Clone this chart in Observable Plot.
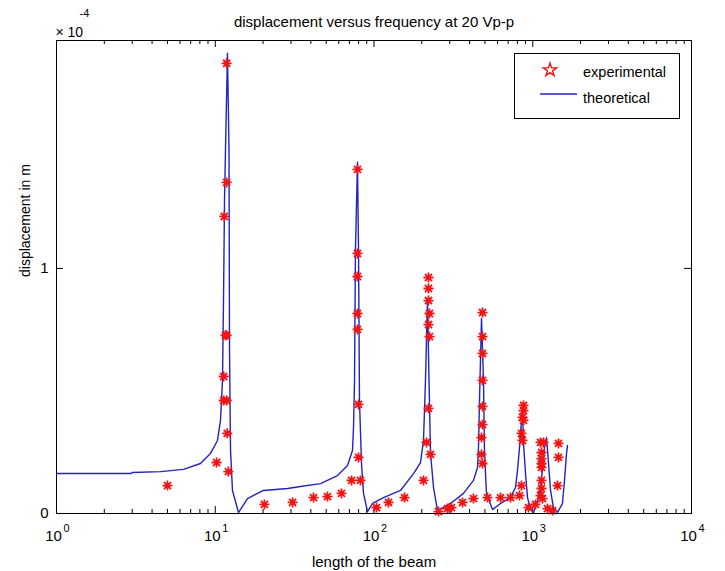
<!DOCTYPE html>
<html><head><meta charset="utf-8">
<script src="https://cdn.jsdelivr.net/npm/d3@7"></script>
<script src="https://cdn.jsdelivr.net/npm/@observablehq/plot@0.6"></script>
<style>body{margin:0;background:#fff} svg{display:block}</style>
</head><body><div id="chart"></div>
<script>
// ---- data (displacement in units of 1e-4 m) ----
const theoryX = [1,2.93,3.01,4.52,6.31,8.07,9.33,10.33,10.79,11.11,
  11.27,11.44,11.60,11.94,12.21,12.30,12.48,12.84,14.01,15.97,
  17.93,20.13,28.52,34.44,46.03,58.9,68.1,73.2,74.3,75.4,
  76.4,78.7,79.9,81.0,83.4,85.9,91.0,97.9,114.8,146.9,
  177.4,196.3,205.0,208.0,211.0,217.3,222.1,227.0,237.1,251.2,
  303.3,366.3,423.5,448.7,455.3,461.9,475.5,489.5,496.7,511.3,
  557.9,626.6,724.3,778.6,801.5,825.2,849.5,861.9,874.6,900.4,
  926.8,967.8,1010.9,1087,1152,1186,1221,1257,1294,1351,
  1432,1539,1585,1632,1656];
const theoryY = [0.163,0.163,0.167,0.171,0.180,0.204,0.245,0.298,0.380,0.543,
  0.869,1.278,1.482,1.878,1.482,0.665,0.257,0.094,0.004,0.061,
  0.078,0.094,0.102,0.110,0.122,0.155,0.196,0.257,0.351,0.543,
  1.073,1.433,1.073,0.461,0.204,0.082,0.008,0.041,0.065,0.094,
  0.163,0.208,0.298,0.420,0.543,0.869,0.543,0.245,0.106,0.012,
  0.041,0.082,0.135,0.188,0.269,0.461,0.796,0.543,0.245,0.082,
  0.016,0.041,0.065,0.106,0.176,0.269,0.380,0.420,0.286,0.163,
  0.065,0.020,0.004,0.065,0.176,0.269,0.310,0.204,0.094,0.024,
  0.004,0.041,0.135,0.245,0.278];

const expX = [5.0,10.2,12.1,11.9,11.3,11.8,11.3,11.6,11.8,11.4,11.8,11.8,
  20.4,30.7,41.6,50.9,62.4,72.2,82.2,79.9,79.9,78.7,78.7,78.7,78.7,78.7,103.7,123.4,155.7,
  205.0,214.2,227.0,220.4,223.6,220.4,223.6,220.4,220.4,220.4,254.9,290.4,307.7,361.0,423.5,518.8,
  482.5,482.5,482.5,482.5,482.5,482.5,475.5,475.5,482.5,
  626.6,724.3,825.2,849.5,874.6,874.6,861.9,874.6,849.5,861.9,940.3,1040.6,
  1118.9,1168.6,1135.3,1135.3,1135.3,1135.3,1135.3,1135.3,1118.9,1152,1238.4,1331.6,1452.6,1452.6,1432];
const expY = [0.114,0.208,0.171,0.327,0.461,0.461,0.559,0.727,0.727,1.212,1.351,1.837,
  0.037,0.045,0.065,0.069,0.082,0.135,0.135,0.229,0.445,0.751,0.816,0.967,1.061,1.404,0.024,0.045,0.065,
  0.135,0.290,0.241,0.429,0.722,0.771,0.816,0.869,0.918,0.963,0.008,0.020,0.024,0.045,0.061,0.065,
  0.820,0.722,0.653,0.543,0.437,0.363,0.310,0.241,0.204,
  0.065,0.065,0.073,0.114,0.441,0.420,0.392,0.380,0.327,0.298,0.024,0.037,
  0.290,0.290,0.249,0.224,0.204,0.188,0.135,0.102,0.073,0.061,0.020,0.012,0.286,0.229,0.114];

const xMajorTicks = [1, 10, 100, 1000, 10000];
const xTickBase = ["10", "10", "10", "10", "10"];
const xTickExponents = ["0", "1", "2", "3", "4"];
const xMinorTicks = [2,3,4,5,6,7,8,9,20,30,40,50,60,70,80,90,200,300,400,500,600,700,800,900,2000,3000,4000,5000,6000,7000,8000,9000];
const yTicks = [0, 1];
const yTickLabels = ["0", "1"];

const titleText = "displacement versus frequency at 20 Vp-p";
const xLabel = "length of the beam";
const yLabel = "displacement in m";
const legendLabels = ["experimental", "theoretical"];

// ---- layout ----
const W = 725, H = 571, mL = 56, mR = 34, mT = 40, mB = 58;
const FW = W - mL - mR, FH = H - mT - mB;
const RED = "#f01414", BLUE = "#2323c0";
const FONT = "'Liberation Sans', Arial, Helvetica, sans-serif";

const theory = theoryX.map((x, i) => ({x, y: theoryY[i]}));
const exper = expX.map((x, i) => ({x, y: expY[i]}));

const asterisk = {
  draw(ctx, size) {
    const r = Math.sqrt(size / Math.PI), d = r * Math.SQRT1_2;
    ctx.moveTo(-r, 0); ctx.lineTo(r, 0);
    ctx.moveTo(0, -r); ctx.lineTo(0, r);
    ctx.moveTo(-d, -d); ctx.lineTo(d, d);
    ctx.moveTo(-d, d); ctx.lineTo(d, -d);
  }
};

const T = {lineAnchor: "middle", fill: "#000"};

const plot = Plot.plot({
  width: W, height: H,
  marginLeft: mL, marginRight: mR, marginTop: mT, marginBottom: mB,
  style: {fontFamily: FONT, fontSize: "15px", background: "#fff", color: "#000"},
  x: {type: "log", domain: [1, 10000], axis: null},
  y: {domain: [0, 1.93], axis: null},
  marks: [
    // ticks (inward, on all four sides)
    Plot.tickX(xMajorTicks, {x: d => d, insetTop: FH - 7, stroke: "#000"}),
    Plot.tickX(xMajorTicks, {x: d => d, insetBottom: FH - 7, stroke: "#000"}),
    Plot.tickX(xMinorTicks, {x: d => d, insetTop: FH - 4, stroke: "#000"}),
    Plot.tickX(xMinorTicks, {x: d => d, insetBottom: FH - 4, stroke: "#000"}),
    Plot.tickY(yTicks, {y: d => d, insetRight: FW - 7, stroke: "#000"}),
    Plot.tickY(yTicks, {y: d => d, insetLeft: FW - 7, stroke: "#000"}),
    // data
    Plot.line(theory, {x: "x", y: "y", stroke: BLUE, strokeWidth: 1.4}),
    Plot.dot(exper, {x: "x", y: "y", symbol: asterisk, r: 5, stroke: RED, strokeWidth: 1.8, fill: "none"}),
    Plot.frame({stroke: "#000", strokeWidth: 1}),
    // x tick labels 10^n
    Plot.text(xMajorTicks, {...T, x: d => d, text: (d, i) => xTickBase[i], frameAnchor: "bottom", dy: 23, dx: -3, fontSize: 15}),
    Plot.text(xMajorTicks, {...T, x: d => d, text: (d, i) => xTickExponents[i], frameAnchor: "bottom", dy: 15, dx: 10, fontSize: 11}),
    // y tick labels
    Plot.text(yTicks, {...T, y: d => d, text: (d, i) => yTickLabels[i], frameAnchor: "left", dx: -8, textAnchor: "end", fontSize: 15}),
    // multiplier
    Plot.text(["\u00d7 10"], {...T, frameAnchor: "top-left", dy: -8, dx: -1, textAnchor: "start", fontSize: 14}),
    Plot.text(["-4"], {...T, frameAnchor: "top-left", dy: -27, dx: 23, textAnchor: "start", fontSize: 11}),
    // title and axis labels
    Plot.text([titleText], {...T, frameAnchor: "top", dy: -18, fontSize: 15}),
    Plot.text([xLabel], {...T, frameAnchor: "bottom", dy: 49, fontSize: 15}),
    Plot.text([yLabel], {...T, frameAnchor: "left", dx: -31, rotate: -90, fontSize: 14})
  ]
});

// legend box (MATLAB style)
const svg = d3.select(plot);
const lg = svg.append("g").attr("font-family", FONT).attr("font-size", 14.5).attr("text-anchor", "start");
lg.append("rect").attr("x", 514.5).attr("y", 53.5).attr("width", 165).attr("height", 65)
  .attr("fill", "#fff").attr("stroke", "#000");
lg.append("path").attr("d", d3.symbol(d3.symbolStar, 55)())
  .attr("transform", "translate(550,70)").attr("fill", "none").attr("stroke", RED).attr("stroke-width", 1.4);
lg.append("text").attr("x", 583).attr("y", 72).attr("dy", "0.35em").attr("text-anchor", "start").text(legendLabels[0]);
lg.append("line").attr("x1", 540).attr("x2", 577).attr("y1", 94).attr("y2", 94)
  .attr("stroke", BLUE).attr("stroke-width", 1.4);
lg.append("text").attr("x", 583).attr("y", 98).attr("dy", "0.35em").attr("text-anchor", "start").text(legendLabels[1]);

document.getElementById("chart").appendChild(plot);
</script>
</body></html>
